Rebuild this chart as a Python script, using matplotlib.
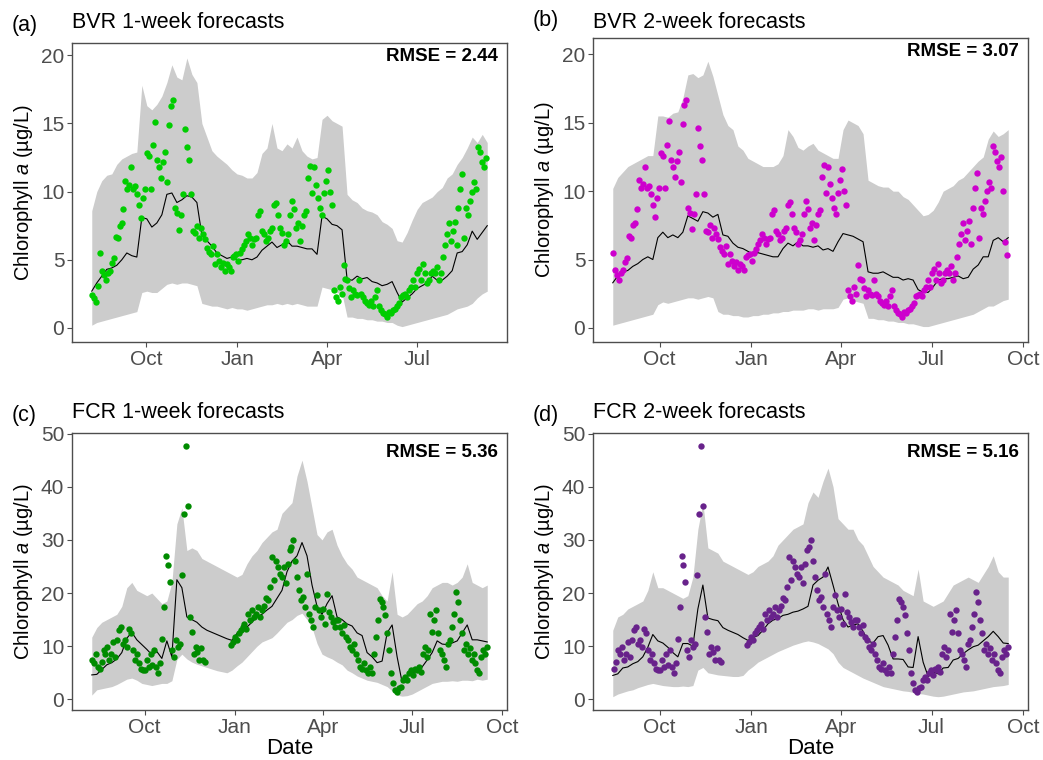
import numpy as np
import pandas as pd
import matplotlib
matplotlib.use('Agg')
import matplotlib.pyplot as plt
import matplotlib.dates as mdates

plt.rcParams['font.family'] = ['Liberation Sans', 'DejaVu Sans']
plt.rcParams['mathtext.fontset'] = 'custom'
plt.rcParams['mathtext.rm'] = 'Liberation Sans'
plt.rcParams['mathtext.it'] = 'Liberation Sans:italic'

# ---------------- data ----------------
# observations (every 2 days)
bvr_obs_start = '2020-08-07'
bvr_obs = [2.4, 2.2, 1.9, 3.1, 5.5, 4.2, 3.9, 3.5, 4.0, 4.2,
           4.8, 5.1, 6.7, 6.6, 7.5, 7.7, 8.7, 10.8, 10.2, 10.5,
           11.8, 10.2, 10.4, 9.8, 9.0, 8.1, 9.5, 10.2, 12.8, 12.6,
           10.2, 13.4, 15.1, 12.3, 11.8, 11.0, 12.2, 12.9, 10.7, 14.9,
           16.3, 16.7, 8.8, 8.4, 7.2, 8.3, 9.8, 14.6, 13.3, 12.3,
           9.8, 7.1, 7.0, 7.5, 6.6, 7.3, 6.9, 6.5, 5.9, 5.6,
           5.4, 6.0, 4.7, 5.4, 4.9, 4.5, 4.8, 4.2, 4.7, 4.5,
           4.2, 5.2, 5.3, 5.4, 4.9, 5.5, 5.8, 6.1, 6.4, 6.9,
           6.6, 6.1, 6.5, 6.6, 8.3, 8.6, 7.1, 6.9, 6.4, 6.6,
           7.1, 7.3, 9.0, 9.2, 8.3, 7.3, 7.0, 6.1, 6.4, 6.9,
           8.3, 9.3, 8.7, 7.3, 7.7, 6.4, 7.5, 8.3, 8.6, 11.0,
           11.9, 9.9, 11.8, 10.5, 9.5, 8.8, 8.3, 9.9, 10.8, 11.6,
           10.0, 9.0, 2.8, 2.3, 2.0, 3.0, 2.5, 4.6, 3.6, 3.5,
           2.9, 2.3, 2.8, 2.5, 2.4, 3.5, 2.5, 2.3, 2.0, 1.8,
           1.7, 2.0, 1.6, 2.3, 2.8, 1.6, 1.3, 1.1, 1.0, 0.8,
           1.2, 1.1, 1.3, 1.4, 1.6, 1.8, 2.3, 2.4, 2.5, 2.3,
           2.8, 3.0, 3.5, 3.0, 4.0, 4.3, 3.5, 4.7, 4.0, 3.3,
           3.5, 4.0, 4.2, 4.0, 4.5, 3.5, 4.0, 5.2, 6.1, 6.9,
           7.7, 6.4, 7.1, 7.8, 6.1, 8.8, 10.2, 11.3, 6.6, 8.8,
           8.3, 9.3, 10.0, 10.7, 10.2, 13.3, 12.9, 12.2, 11.8, 12.5,
           10.0, 6.3, 5.3]

fcr_obs_start = '2020-08-08'
fcr_obs = [7.4, 6.8, 8.6, 6.1, 5.8, 7.1, 9.3, 8.6, 9.9, 7.4,
           8.6, 10.8, 8.0, 11.1, 13.0, 13.6, 10.5, 11.1, 9.9, 13.3,
           12.4, 9.3, 7.4, 8.6, 6.8, 5.8, 5.5, 5.5, 7.4, 6.0,
           8.6, 6.4, 9.3, 6.1, 4.9, 6.8, 11.4, 17.4, 27.0, 25.2,
           22.0, 9.3, 8.0, 11.1, 9.9, 10.5, 23.3, 34.9, 47.7, 36.4,
           15.5, 12.7, 8.6, 9.9, 8.9, 7.4, 9.6, 7.4, 7.1, np.nan,
           np.nan, np.nan, np.nan, np.nan, np.nan, np.nan, np.nan, np.nan, np.nan, np.nan,
           np.nan, 10.2, 10.8, 11.8, 11.1, 12.4, 13.0, 13.6, 14.2, 13.3,
           16.1, 14.9, 16.8, 15.5, 16.1, 17.4, 15.5, 16.8, 17.6, 19.0,
           18.6, 21.1, 26.8, 22.4, 26.1, 24.9, 23.6, 23.0, 24.9, 21.8,
           25.5, 28.0, 28.6, 29.9, 26.1, 23.0, 20.5, 18.6, 19.3, 17.4,
           23.6, 16.1, 14.9, 13.6, 17.4, 19.6, 16.8, 15.5, 17.0, 14.2,
           19.9, 16.5, 15.5, 14.5, 13.6, 15.0, 14.9, 13.6, 12.4, 14.0,
           11.8, 11.1, 9.9, 9.3, 10.5, 8.6, 7.4, 6.1, 5.8, 6.8,
           5.5, 4.9, 6.1, 5.0, 8.6, 11.8, 14.9, 18.9, 18.3, 17.4,
           15.8, 12.4, 9.3, 4.9, 3.0, 1.8, 1.4, 2.1, 2.4, 3.6,
           4.3, 3.6, 4.9, 5.5, 4.6, 5.8, 5.5, 6.1, 5.2, 8.6,
           9.9, 8.0, 9.3, 16.1, 12.7, 14.9, 16.8, 12.4, 9.3, 8.6,
           7.4, 6.1, 10.5, 11.1, 13.6, 16.1, 20.2, 18.3, 14.9, 12.4,
           9.3, 10.5, 8.6, 9.6, 7.4, 8.6, 6.8, 5.5, 4.9, 8.0,
           9.3, 8.6, 9.9]

# forecast windows (start, end) for each panel
win_a = ('2020-08-07', '2021-09-10')
win_b = ('2020-08-15', '2021-09-16')
win_c = ('2020-08-08', '2021-09-16')
win_d = ('2020-08-15', '2021-09-16')

# panel (a): BVR 1-week
a_upper = [8.6, 10.0, 10.8, 11.2, 11.3, 12.0, 12.4, 12.6, 12.8, 12.9,
           17.8, 16.3, 16.0, 16.4, 17.0, 18.0, 19.3, 18.4, 18.2, 19.8,
           18.6, 18.0, 15.0, 14.0, 13.0, 12.6, 12.3, 12.0, 11.6, 11.3,
           11.2, 11.0, 11.0, 11.4, 12.8, 13.2, 15.0, 13.2, 13.0, 13.5,
           13.2, 14.0, 13.0, 12.6, 12.4, 12.5, 15.3, 15.6, 15.2, 15.0,
           14.8, 9.8, 9.4, 9.2, 8.8, 8.6, 8.5, 8.3, 7.8, 7.6,
           7.3, 6.4, 6.3, 7.0, 7.9, 8.7, 9.2, 9.4, 9.6, 10.0,
           10.3, 11.0, 11.3, 12.0, 12.5, 13.2, 14.0, 13.6, 14.2, 13.6]
a_lower = [0.2, 0.4, 0.5, 0.6, 0.7, 0.8, 0.9, 1.0, 1.1, 1.2,
           2.6, 2.7, 2.6, 2.6, 2.9, 3.2, 3.3, 3.2, 3.3, 3.3,
           3.2, 3.1, 1.8, 1.7, 1.6, 1.6, 1.5, 1.4, 1.5, 1.4,
           1.4, 1.3, 1.4, 1.5, 1.6, 1.7, 1.7, 1.8, 1.7, 1.8,
           1.7, 1.8, 1.7, 1.6, 1.6, 1.6, 3.0, 2.9, 2.8, 2.6,
           2.5, 0.8, 0.8, 0.7, 0.7, 0.6, 0.6, 0.5, 0.5, 0.4,
           0.4, 0.2, 0.1, 0.2, 0.3, 0.4, 0.5, 0.6, 0.7, 0.8,
           0.9, 1.0, 1.2, 1.4, 1.5, 1.6, 1.8, 2.2, 2.5, 2.7]
a_median = [2.7, 3.3, 3.8, 4.3, 4.4, 4.6, 5.0, 5.5, 5.3, 5.2,
            8.1, 8.0, 7.4, 7.7, 8.3, 9.8, 9.9, 9.2, 9.4, 9.7,
            9.6, 9.2, 6.8, 6.4, 6.0, 5.5, 5.3, 5.1, 5.2, 5.0,
            5.0, 5.1, 5.0, 5.2, 5.7, 6.0, 6.3, 5.9, 6.1, 6.4,
            6.0, 6.0, 5.9, 5.8, 5.8, 5.4, 8.2, 8.0, 7.6, 7.5,
            7.2, 3.6, 3.5, 3.8, 3.6, 3.7, 3.4, 3.3, 3.1, 3.2,
            3.4, 2.6, 1.9, 2.2, 2.5, 2.9, 3.1, 3.3, 3.8, 3.5,
            3.5, 3.8, 4.2, 5.5, 5.6, 6.1, 7.1, 6.5, 7.0, 7.5]

# panel (b): BVR 2-week
b_upper = [10.2, 11.0, 11.4, 11.8, 12.0, 12.2, 12.4, 12.6, 12.6, 15.5,
           15.5, 15.4, 15.7, 15.8, 16.8, 18.5, 18.6, 18.3, 18.5, 19.5,
           18.4, 17.0, 15.6, 14.8, 14.5, 13.3, 13.0, 12.4, 12.2, 12.0,
           11.8, 11.8, 11.8, 12.0, 12.6, 14.5, 14.0, 13.2, 13.0, 13.3,
           13.5, 13.0, 12.8, 12.6, 12.4, 12.4, 14.5, 15.2, 15.0, 14.8,
           14.2, 10.8, 10.6, 10.4, 10.3, 10.3, 10.0, 10.0, 9.6, 9.4,
           9.0, 8.6, 8.2, 8.3, 8.6, 9.2, 10.0, 10.2, 10.4, 10.8,
           11.0, 11.4, 11.8, 12.2, 12.5, 13.8, 14.4, 14.0, 14.2, 14.5]
b_lower = [0.2, 0.3, 0.4, 0.5, 0.6, 0.7, 0.8, 0.9, 1.0, 1.7,
           1.9, 1.8, 1.9, 2.0, 2.1, 2.2, 2.2, 2.1, 2.2, 2.3,
           2.2, 1.2, 1.0, 1.0, 0.9, 0.9, 0.8, 0.8, 0.9, 0.9,
           1.0, 1.0, 1.1, 1.1, 1.2, 1.2, 1.3, 1.3, 1.3, 1.4,
           1.4, 1.3, 1.4, 1.4, 1.4, 1.5, 2.1, 2.2, 2.0, 1.9,
           1.8, 0.7, 0.7, 0.6, 0.6, 0.5, 0.5, 0.4, 0.4, 0.3,
           0.3, 0.2, 0.1, 0.1, 0.2, 0.3, 0.4, 0.5, 0.6, 0.7,
           0.8, 0.9, 1.0, 1.2, 1.4, 1.6, 1.6, 1.8, 2.0, 2.1]
b_median = [3.3, 3.8, 4.1, 4.2, 4.5, 4.7, 5.0, 5.2, 5.0, 6.6,
            7.0, 6.6, 6.8, 6.6, 7.0, 8.2, 8.0, 7.8, 8.5, 8.4,
            8.1, 8.3, 6.8, 6.7, 6.2, 5.9, 5.8, 5.6, 5.4, 5.5,
            5.4, 5.3, 5.2, 5.2, 5.8, 6.2, 6.0, 6.3, 6.0, 6.0,
            5.9, 6.0, 5.7, 5.8, 5.6, 6.3, 6.9, 6.8, 6.7, 6.5,
            6.3, 4.1, 4.0, 4.0, 4.1, 3.9, 3.7, 3.7, 3.5, 3.6,
            3.5, 2.8, 2.6, 2.6, 3.0, 3.5, 3.6, 3.6, 3.7, 3.8,
            3.6, 3.7, 4.3, 4.6, 5.2, 5.2, 6.4, 6.6, 6.3, 6.6]

# panel (c): FCR 1-week
c_upper = [11.7, 13.5, 14.5, 15.0, 15.5, 16.0, 17.5, 21.0, 22.0, 20.5,
           20.0, 19.5, 20.0, 19.0, 18.0, 18.5, 22.0, 33.0, 36.0, 28.0,
           28.5, 28.0, 26.5, 26.0, 25.5, 25.0, 24.5, 24.0, 23.5, 23.0,
           23.5, 25.5, 27.0, 28.0, 29.5, 30.5, 31.5, 32.0, 35.0, 36.0,
           37.0, 42.0, 45.0, 41.0, 36.0, 31.0, 30.0, 31.5, 32.0, 29.0,
           27.0, 25.5, 24.5, 23.0, 22.5, 22.0, 21.5, 21.0, 19.5, 18.5,
           24.0, 16.0, 15.5, 16.0, 17.0, 18.0, 18.5, 19.5, 21.0, 21.5,
           22.0, 22.0, 21.5, 22.0, 23.0, 25.5, 22.0, 21.5, 21.0, 21.5]
c_lower = [0.8, 1.8, 2.0, 2.2, 2.4, 2.8, 3.3, 3.8, 4.0, 3.6,
           3.0, 2.8, 2.6, 2.8, 3.0, 3.0, 3.5, 7.5, 8.5, 7.6,
           7.0, 6.6, 6.3, 6.0, 5.7, 5.4, 5.2, 5.0, 5.5, 6.3,
           7.0, 8.0, 9.0, 10.0, 10.8, 11.2, 11.6, 12.5, 13.5, 14.5,
           15.0, 15.8, 16.2, 15.0, 13.5, 10.5, 8.5, 8.0, 7.6, 7.0,
           6.5, 5.5, 5.0, 4.4, 4.0, 3.6, 3.4, 3.2, 2.8, 2.4,
           1.6, 0.8, 0.6, 0.7, 1.0, 1.5, 2.0, 2.5, 3.0, 3.2,
           3.4, 3.4, 3.5, 3.4, 3.6, 3.6, 3.5, 3.8, 3.6, 3.8]
c_median = [4.6, 4.7, 5.6, 6.5, 6.9, 7.6, 8.8, 11.5, 12.6, 11.2,
            10.3, 9.4, 8.4, 9.0, 7.7, 11.0, 8.0, 22.5, 21.0, 15.5,
            15.0, 14.5, 13.6, 13.0, 12.6, 12.2, 11.8, 11.4, 11.1, 12.4,
            13.0, 13.6, 14.5, 15.5, 16.0, 16.8, 17.5, 19.0, 20.5, 24.0,
            26.0, 27.0, 29.5, 27.0, 21.5, 17.5, 16.0, 18.0, 19.5, 15.5,
            15.0, 14.2, 13.8, 12.5, 12.0, 8.8, 8.0, 6.9, 7.2, 12.5,
            14.0, 8.0, 3.2, 4.3, 4.9, 5.4, 6.1, 7.4, 8.8, 11.0,
            10.4, 10.3, 10.6, 11.0, 12.5, 14.0, 11.2, 11.2, 11.0, 10.8]

# panel (d): FCR 2-week
d_upper = [13.0, 15.5, 16.0, 17.0, 17.5, 18.0, 18.5, 20.5, 24.0, 21.0,
           21.0, 20.5, 20.0, 19.5, 19.0, 19.5, 23.0, 32.0, 37.0, 28.5,
           28.0, 27.5, 26.0, 25.5, 25.0, 24.5, 24.0, 23.5, 24.0, 25.0,
           25.5, 26.0, 27.0, 29.0, 30.0, 31.0, 32.0, 32.5, 33.0, 37.0,
           39.0, 38.0, 41.0, 43.5, 40.0, 34.0, 33.0, 32.0, 32.0, 30.0,
           29.0, 27.0, 25.0, 24.0, 23.0, 22.5, 22.0, 21.5, 20.5, 20.0,
           19.5, 24.5, 18.5, 18.0, 17.5, 18.0, 18.5, 20.0, 21.5, 22.0,
           22.5, 23.0, 22.5, 22.0, 23.5, 25.0, 27.0, 24.0, 23.0, 23.0]
d_lower = [0.5, 1.0, 1.3, 1.6, 1.8, 2.2, 2.5, 2.8, 3.0, 2.8,
           2.6, 2.5, 2.4, 2.4, 2.5, 2.4, 2.6, 5.5, 6.0, 5.0,
           4.8, 4.6, 4.5, 4.4, 4.3, 4.3, 4.5, 5.5, 6.2, 7.0,
           7.5, 8.0, 8.5, 9.0, 9.4, 9.8, 10.2, 10.5, 10.8, 11.0,
           10.8, 10.5, 10.0, 9.5, 8.6, 7.0, 6.0, 5.5, 5.0, 4.5,
           4.0, 3.6, 3.2, 2.8, 2.4, 2.2, 2.0, 1.8, 1.6, 1.5,
           1.3, 1.1, 1.0, 0.8, 0.6, 0.5, 0.6, 0.8, 1.0, 1.2,
           1.4, 1.5, 1.6, 1.8, 2.0, 2.2, 2.4, 2.5, 2.6, 2.8]
d_median = [4.5, 4.8, 5.9, 6.1, 6.7, 7.1, 8.0, 9.8, 12.2, 11.0,
            10.6, 9.8, 8.8, 8.0, 10.5, 10.5, 10.0, 17.0, 21.5, 15.3,
            15.0, 14.8, 13.5, 13.0, 12.6, 12.2, 11.6, 11.1, 11.6, 12.0,
            13.0, 14.2, 14.9, 15.2, 15.8, 16.0, 16.4, 16.6, 17.0, 17.5,
            21.5, 22.4, 23.0, 24.9, 21.5, 18.0, 15.0, 13.6, 14.0, 14.2,
            12.8, 11.0, 10.6, 11.8, 12.0, 10.2, 7.6, 7.6, 7.5, 6.1,
            6.0, 11.8, 7.0, 4.3, 5.2, 4.8, 5.9, 6.0, 7.4, 7.7,
            8.6, 9.3, 9.9, 10.2, 11.0, 11.8, 12.8, 11.8, 10.6, 10.5]

titles = ['BVR 1-week forecasts', 'BVR 2-week forecasts',
          'FCR 1-week forecasts', 'FCR 2-week forecasts']
tags = ['(a)', '(b)', '(c)', '(d)']
rmse = ['RMSE = 2.44', 'RMSE = 3.07', 'RMSE = 5.36', 'RMSE = 5.16']
point_colors = ['#00CD00', '#CD00CD', '#008B00', '#68228B']
yticks_bvr = [0, 5, 10, 15, 20]
yticks_fcr = [0, 10, 20, 30, 40, 50]

# ---------------- figure ----------------
W, H = 1043, 760
fig = plt.figure(figsize=(W / 100, H / 100), dpi=100)

# panel boxes in pixels: left, top, right, bottom
boxes = [(72, 43, 507, 342), (593, 38, 1028, 342),
         (72, 433, 507, 710), (593, 433, 1028, 710)]
ylims = [(-1.03, 20.9), (-1.03, 21.2), (-2.0, 50.1), (-2.0, 50.1)]

bvr_dates = pd.date_range(bvr_obs_start, periods=len(bvr_obs), freq='2D')
fcr_dates = pd.date_range(fcr_obs_start, periods=len(fcr_obs), freq='2D')

panels = [
    (win_a, a_lower, a_upper, a_median, bvr_dates, np.array(bvr_obs), yticks_bvr),
    (win_b, b_lower, b_upper, b_median, bvr_dates, np.array(bvr_obs), yticks_bvr),
    (win_c, c_lower, c_upper, c_median, fcr_dates, np.array(fcr_obs), yticks_fcr),
    (win_d, d_lower, d_upper, d_median, fcr_dates, np.array(fcr_obs), yticks_fcr),
]

edge = '#4D4D4D'
for k, (win, lo, up, med, odates, ovals, yt) in enumerate(panels):
    l, t, r, b = boxes[k]
    ax = fig.add_axes([l / W, 1 - b / H, (r - l) / W, (b - t) / H])
    start, end = pd.Timestamp(win[0]), pd.Timestamp(win[1])
    grid = pd.date_range(start, end, periods=len(med))
    ax.fill_between(grid, lo, up, color='#CCCCCC', linewidth=0, zorder=1)
    ax.plot(grid, med, color='black', lw=0.8, zorder=2)
    m = (odates >= start) & (odates <= end)
    ax.scatter(odates[m], ovals[m], s=21, color=point_colors[k],
               linewidths=0, zorder=3)
    span = end - start
    ax.set_xlim(start - 0.05 * span, end + 0.05 * span)
    ax.set_ylim(*ylims[k])
    ax.set_yticks(yt)
    ax.xaxis.set_major_locator(mdates.MonthLocator(bymonth=[1, 4, 7, 10]))
    ax.xaxis.set_major_formatter(mdates.DateFormatter('%b'))
    for sp in ax.spines.values():
        sp.set_color(edge)
        sp.set_linewidth(1.0)
    ax.tick_params(direction='out', length=3.5, width=0.8, color=edge,
                   labelcolor='#4D4D4D', labelsize=15, pad=2)
    ax.set_ylabel('Chlorophyll $a$ (µg/L)', fontsize=14.5, color='black')
    ax.yaxis.set_label_coords(-0.085, 0.5)
    if k >= 2:
        ax.set_xlabel('Date', fontsize=16, color='black', labelpad=1)
    ax.text(0.978, 0.955 if k < 2 else 0.93, rmse[k], transform=ax.transAxes,
            ha='right', va='center', fontsize=13.5, fontweight='bold')
    # tag and title
    fig.text((l - 60) / W, 1 - (t - 12) / H, tags[k], fontsize=15.5,
             ha='left', va='baseline')
    fig.text(l / W, 1 - (t - 15) / H if k != 1 else 1 - 28 / H, titles[k],
             fontsize=15.5, ha='left', va='baseline')

fig.savefig('out.png', dpi=100)
